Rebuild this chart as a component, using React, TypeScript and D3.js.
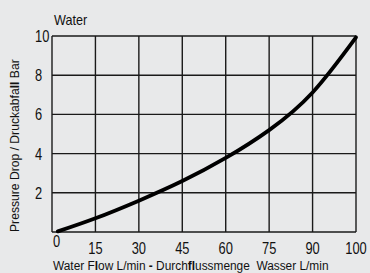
import React from 'react';
import * as d3 from 'd3';

// tick labels along the flow axis (evenly spaced on the chart, last step is 10)
const flowTicks = [0, 15, 30, 45, 60, 75, 90, 100];
const pressureTicks = [2, 4, 6, 8, 10];

// curve
const flowValues = [2, 15, 30, 45, 60, 75, 90, 100];
const pressureValues = [0.03, 0.7, 1.6, 2.6, 3.78, 5.2, 7.12, 9.93];

const W = 370;
const H = 273;
const margin = { top: 36, right: 14, bottom: 41, left: 52 };
const FONT = 'Liberation Sans, Arial, Helvetica, sans-serif';

const App = () => {
  const plotW = W - margin.left - margin.right;
  const plotH = H - margin.top - margin.bottom;

  const step = plotW / (flowTicks.length - 1);
  const x = d3.scaleLinear()
    .domain(flowTicks)
    .range(flowTicks.map((_, i) => i * step));

  const y = d3.scaleLinear().domain([0, 10]).range([plotH, 0]);

  const line = d3.line<number>()
    .x((d, i) => x(flowValues[i]))
    .y(d => y(d))
    .curve(d3.curveNatural);

  return (
    <svg width={W} height={H} style={{ position: 'absolute', left: 0, top: 0, background: '#e8e9ea' }}>
      <rect width={W} height={H} fill="#e8e9ea" />
      <g transform={`translate(${margin.left},${margin.top})`}>
        {flowTicks.map(t => (
          <line key={'v' + t} x1={x(t)} x2={x(t)} y1={0} y2={plotH} stroke="#1a1a1a" strokeWidth={1.4} />
        ))}
        {[0, ...pressureTicks].map(t => (
          <line key={'h' + t} x1={0} x2={plotW} y1={y(t)} y2={y(t)} stroke="#1a1a1a" strokeWidth={1.4} />
        ))}
        <path d={line(pressureValues) || ''} fill="none" stroke="#000" strokeWidth={3.8} strokeLinecap="round" />

        {pressureTicks.map(t => (
          <text key={'yl' + t} transform={`translate(-17,${y(t) + 6}) scale(0.78,1)`}
            fontFamily={FONT} fontSize={16.5} fill="#111">{t}</text>
        ))}
        {flowTicks.map((t, i) => (
          <text key={'xl' + t} transform={`translate(${x(t) + (i === 0 ? 1 : 0)},${plotH + (i === 0 ? 15 : 22)}) scale(0.78,1)`}
            textAnchor={i === 0 ? 'start' : 'middle'} fontFamily={FONT} fontSize={16.5} fill="#111">{t}</text>
        ))}
      </g>

      <text transform="translate(54,25) scale(0.9,1)" fontFamily={FONT} fontSize={14} fill="#111">Water</text>

      <text transform="translate(53,270) scale(0.88,1)" fontFamily={FONT} fontSize={13.5} fill="#111">
        Water F<tspan fontWeight="bold">l</tspan>ow L/min <tspan fontWeight="bold">-</tspan> Durch<tspan fontWeight="bold">fl</tspan>ussmenge{'\u00a0 '}Wasser L/min
      </text>

      <text transform="translate(19,232) rotate(-90) scale(0.9,1)" fontFamily={FONT} fontSize={13.5} fill="#111">
        Pressure Drop / Druckabfa<tspan fontWeight="bold">ll</tspan> Bar
      </text>
    </svg>
  );
};

export default App;
